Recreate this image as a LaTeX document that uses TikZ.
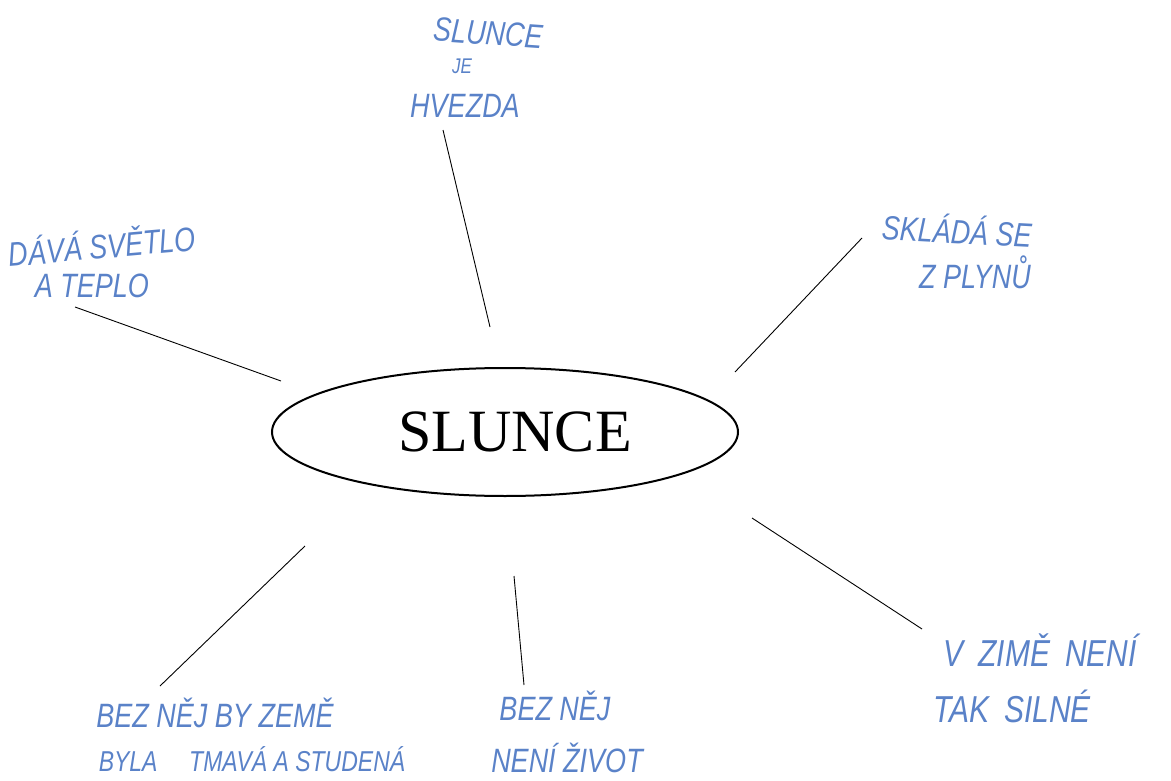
\documentclass[tikz,border=0pt]{standalone}
\usepackage{fontspec}
\usetikzlibrary{shapes.geometric}
\setmainfont{Liberation Serif}
\newfontfamily\hand{Liberation Sans}
\definecolor{ink}{RGB}{90,130,200}
\newcommand{\tall}[1]{\scalebox{1}[1.25]{#1}}
\begin{document}
\begin{tikzpicture}[x=1pt,y=-1pt,
  hw/.style={font=\hand\itshape\fontsize{27}{28}\selectfont, text=ink, inner sep=0pt, anchor=center},
  hwwide/.style={hw, font=\hand\itshape\fontsize{30}{32}\selectfont},
  conn/.style={draw=black, line width=0.9pt}]
\useasboundingbox (0,0) rectangle (1171,781);
\node[draw, line width=2pt, ellipse, minimum width=466, minimum height=128, inner sep=0pt] (sun) at (505,432) {};
\node[font=\fontsize{60}{60}\selectfont, inner sep=0pt] (title) at (515,432) {SLUNCE};
% labels
\node[hw, rotate=-4] (t1) at (488,33) {\tall{SLUNCE}};
\node[hw, font=\hand\itshape\fontsize{17}{18}\selectfont] (t2) at (462,66) {\tall{JE}};
\node[hw] (t3) at (465,106) {\tall{HVEZDA}};
\node[hw, rotate=5] (l1) at (102,244) {\tall{DÁVÁ SVĚTLO}};
\node[hw] (l2) at (92,286) {\tall{A TEPLO}};
\node[hw, rotate=-3] (r1) at (957,229) {\tall{SKLÁDÁ SE}};
\node[hw] (r2) at (975,272) {\tall{Z PLYNŮ}};
\node[hwwide] (br1) at (1040,650) {\tall{V\,\,\,ZIMĚ\,\,\,NENÍ}};
\node[hwwide] (br2) at (1012,706) {\tall{TAK\,\,\,SILNÉ}};
\node[hw] (b1) at (555,706) {\tall{BEZ NĚJ}};
\node[hw] (b2) at (567,758) {\tall{NENÍ ŽIVOT}};
\node[hw] (bl1) at (215,713) {\tall{BEZ NĚJ BY ZEMĚ}};
\node[hw, font=\hand\itshape\fontsize{23}{24}\selectfont] (bl2) at (252,759) {\tall{BYLA \hspace{1.1em}TMAVÁ A STUDENÁ}};
% connector ends
\coordinate (a1) at (443,130); \coordinate (a2) at (490,327);
\coordinate (c1) at (75,307);  \coordinate (c2) at (281,381);
\coordinate (d1) at (862,238); \coordinate (d2) at (735,372);
\coordinate (e1) at (752,518); \coordinate (e2) at (922,629);
\coordinate (f1) at (514,576); \coordinate (f2) at (524,685);
\coordinate (g1) at (305,546); \coordinate (g2) at (160,686);
\draw[conn] (a1) -- (a2);
\draw[conn] (c1) -- (c2);
\draw[conn] (d1) -- (d2);
\draw[conn] (e1) -- (e2);
\draw[conn] (f1) -- (f2);
\draw[conn] (g1) -- (g2);
\end{tikzpicture}
\end{document}
